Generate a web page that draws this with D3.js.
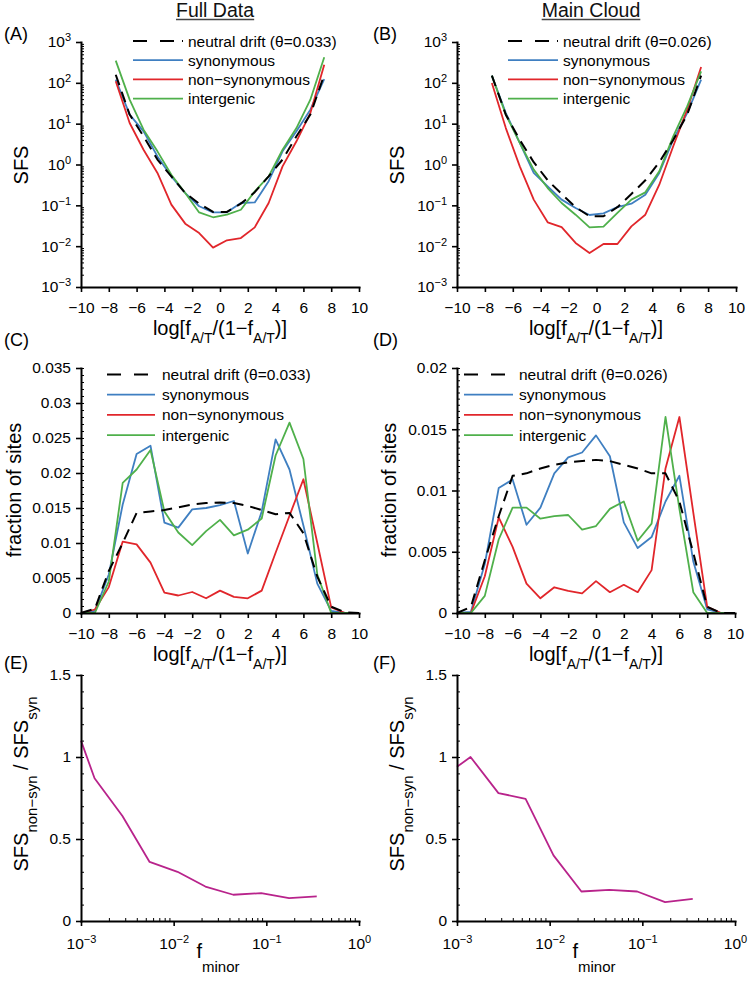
<!DOCTYPE html>
<html><head><meta charset="utf-8">
<script src="https://cdn.jsdelivr.net/npm/d3@7"></script>
<style>
body{margin:0;background:#fff}
svg{display:block;font-family:"Liberation Sans",Arial,Helvetica,sans-serif}
</style>
</head><body>
<svg id="c" width="750" height="987"></svg>
<script>
// ---------- data ----------
const panelTitles = ["Full Data", "Main Cloud"];
const panelTags = ["(A)", "(B)", "(C)", "(D)", "(E)", "(F)"];
const legendNamesFull = ["neutral drift (\u03b8=0.033)", "synonymous", "non\u2212synonymous", "intergenic"];
const legendNamesMain = ["neutral drift (\u03b8=0.026)", "synonymous", "non\u2212synonymous", "intergenic"];

// SFS panels (A, B): x = log[f/(1-f)] bin centres
const sfsX = [-7.5, -6.5, -5.5, -4.5, -3.5, -2.5, -1.5, -0.5, 0.5, 1.5, 2.5, 3.5, 4.5, 5.5, 6.5, 7.5];
const neutralA = [158, 16.7, 4.9, 1.32, 0.51, 0.20, 0.11, 0.069, 0.069, 0.11, 0.21, 0.51, 1.32, 4.9, 16.7, 158];
const synA     = [120, 16.6, 6.5, 1.58, 0.51, 0.20, 0.095, 0.0675, 0.0675, 0.114, 0.118, 0.39, 2.1, 6.5, 22, 124];
const nonsynA  = [109, 10.4, 2.3, 0.62, 0.104, 0.0356, 0.021, 0.0092, 0.0139, 0.0158, 0.0289, 0.114, 0.90, 3.7, 18.2, 279];
const interA   = [349, 38.7, 7.1, 2.1, 0.56, 0.20, 0.067, 0.051, 0.059, 0.078, 0.22, 0.51, 2.3, 7.8, 38.7, 421];

const neutralB = [150, 16.6, 4.0, 1.14, 0.41, 0.19, 0.09, 0.054, 0.054, 0.09, 0.19, 0.41, 1.14, 4.0, 16.6, 150];
const synB     = [150, 18.2, 3.37, 0.62, 0.29, 0.138, 0.086, 0.058, 0.0637, 0.091, 0.110, 0.182, 0.62, 4.06, 18.2, 120];
const nonsynB  = [99, 7.8, 0.90, 0.138, 0.0384, 0.0294, 0.0120, 0.0068, 0.0113, 0.0113, 0.0306, 0.059, 0.32, 2.8, 22, 244];
const interB   = [150, 16.6, 3.37, 0.75, 0.265, 0.114, 0.059, 0.0289, 0.030, 0.065, 0.138, 0.208, 0.68, 4.9, 26.5, 191];

// fraction-of-sites panels (C, D)
const distX = [-10, -9, -8, -7, -6, -5, -4, -3, -2, -1, 0, 1, 2, 3, 4, 5, 6, 7, 8, 9, 10];
const neutralC = [0, 0.0006, 0.0060, 0.0100, 0.0143, 0.0145, 0.0147, 0.0151, 0.0155, 0.0157, 0.0158, 0.0157, 0.0153, 0.0147, 0.0141, 0.0143, 0.0114, 0.0052, 0.0009, 0.0001, 0];
const synC     = [0, 0.0003, 0.0055, 0.0155, 0.0227, 0.0239, 0.0129, 0.0122, 0.0148, 0.0150, 0.0154, 0.0160, 0.0085, 0.0145, 0.0248, 0.0205, 0.0125, 0.0042, 0.0003, 0, 0];
const nonsynC  = [0, 0.0005, 0.0037, 0.0102, 0.0098, 0.0072, 0.0029, 0.0025, 0.0030, 0.0021, 0.0032, 0.0023, 0.0021, 0.0032, 0.0086, 0.0139, 0.0191, 0.0100, 0.0008, 0, 0];
const interC   = [0, 0, 0.0045, 0.0186, 0.0205, 0.0233, 0.0145, 0.0115, 0.0097, 0.0117, 0.0133, 0.0111, 0.0119, 0.0135, 0.0225, 0.0272, 0.0220, 0.0055, 0, 0, 0];

const neutralD = [0, 0.0005, 0.0043, 0.0079, 0.0112, 0.0114, 0.0118, 0.0121, 0.0123, 0.0124, 0.0125, 0.0124, 0.0121, 0.0118, 0.0114, 0.0114, 0.0091, 0.0049, 0.0005, 0, 0];
const synD     = [0, 0.0001, 0.0040, 0.0102, 0.0109, 0.0072, 0.0086, 0.0114, 0.0127, 0.0131, 0.0145, 0.0128, 0.0074, 0.0053, 0.0062, 0.0091, 0.0112, 0.0042, 0.0003, 0, 0];
const nonsynD  = [0, 0, 0.0030, 0.0078, 0.0054, 0.0024, 0.0012, 0.0021, 0.0018, 0.0016, 0.0026, 0.0017, 0.0023, 0.0017, 0.0035, 0.0118, 0.0160, 0.0082, 0.0005, 0, 0];
const interD   = [0, 0, 0.0014, 0.0060, 0.0086, 0.0086, 0.0077, 0.0079, 0.0080, 0.0068, 0.0071, 0.0085, 0.0091, 0.0059, 0.0073, 0.0160, 0.0085, 0.0017, 0, 0, 0];

// ratio panels (E, F)
const fMinor = [0.001, 0.0014, 0.0028, 0.0055, 0.011, 0.022, 0.044, 0.088, 0.176, 0.35];
const ratioE = [1.10, 0.87, 0.64, 0.36, 0.30, 0.21, 0.16, 0.17, 0.14, 0.15];
const ratioF = [0.94, 1.00, 0.78, 0.745, 0.40, 0.18, 0.19, 0.18, 0.115, 0.135];

// tick values
const xTicksLin = [-10, -8, -6, -4, -2, 0, 2, 4, 6, 8, 10];
const yTicksSfs = [1e-3, 1e-2, 1e-1, 1e0, 1e1, 1e2, 1e3];
const yTicksC = [0, 0.005, 0.01, 0.015, 0.02, 0.025, 0.03, 0.035];
const yTicksD = [0, 0.005, 0.01, 0.015, 0.02];
const yTicksE = [0, 0.5, 1, 1.5];
const xTicksE = [1e-3, 1e-2, 1e-1, 1e0];

// ---------- style ----------
const COL = {neutral: "#000000", syn: "#3f7fc1", nonsyn: "#e1262b", inter: "#4fb04b", ratio: "#b8238b"};
const TICKFS = 15.5, LABFS = 20, SUBFS = 14;
const svg = d3.select("#c");

function logMinor(e0, e1) {
  const out = [];
  for (let e = e0; e < e1; e++) for (let k = 2; k <= 9; k++) out.push(k * Math.pow(10, e));
  return out;
}
function linMinor(a, b, step) {
  const out = [];
  const n = Math.round((b - a) / step);
  for (let i = 0; i <= n; i++) out.push(a + i * step);
  return out;
}
function supText(sel, exp) {
  sel.text(null);
  sel.append("tspan").text("10");
  sel.append("tspan").attr("dy", "-0.55em").attr("font-size", 11).text(exp < 0 ? "\u2212" + (-exp) : String(exp));
}
function styleAxis(g) {
  g.attr("font-family", null).attr("font-size", TICKFS);
  g.select(".domain").attr("stroke-width", 2).attr("stroke-linecap", "square");
  g.selectAll(".tick line").attr("stroke-width", 1.6);
  g.selectAll(".tick text").attr("fill", "#000");
}

function panel(o) {
  const g = svg.append("g");
  const x = (o.xLog ? d3.scaleLog() : d3.scaleLinear()).domain(o.xDom).range([o.l, o.r]);
  const y = (o.yLog ? d3.scaleLog() : d3.scaleLinear()).domain(o.yDom).range([o.b, o.t]);

  // minor ticks (inside)
  if (o.yMinor) {
    g.append("g").attr("transform", `translate(${o.l},0)`)
      .call(d3.axisLeft(y).tickValues(o.yMinor).tickSize(-3).tickFormat(""))
      .call(s => s.select(".domain").remove())
      .call(s => s.selectAll(".tick line").attr("stroke-width", 1));
  }
  if (o.xMinor) {
    g.append("g").attr("transform", `translate(0,${o.b})`)
      .call(d3.axisBottom(x).tickValues(o.xMinor).tickSize(-3).tickFormat(""))
      .call(s => s.select(".domain").remove())
      .call(s => s.selectAll(".tick line").attr("stroke-width", 1));
  }

  // data lines (dashed neutral drawn last, on top)
  const line = d3.line().x(d => x(d[0])).y(d => y(d[1]));
  const order = o.series.map((s, i) => i).sort((a, b) => (o.series[a].dash ? 1 : 0) - (o.series[b].dash ? 1 : 0));
  order.forEach(i => {
    const s = o.series[i];
    g.append("path")
      .datum(o.xs.map((v, j) => [v, s.vals[j]]))
      .attr("d", line)
      .attr("fill", "none")
      .attr("stroke", s.color)
      .attr("stroke-width", s.dash ? 2 : 1.8)
      .attr("stroke-linejoin", "round")
      .attr("stroke-dasharray", s.dash || null);
  });

  // major axes
  const ya = g.append("g").attr("transform", `translate(${o.l},0)`)
    .call(d3.axisLeft(y).tickValues(o.yTicks).tickSize(5).tickSizeOuter(0).tickPadding(5)
      .tickFormat(o.yLog ? "" : o.yFmt));
  styleAxis(ya);
  if (o.yLog) ya.selectAll(".tick text").each(function (d) { supText(d3.select(this), Math.round(Math.log10(d))); });

  const xa = g.append("g").attr("transform", `translate(0,${o.b})`)
    .call(d3.axisBottom(x).tickValues(o.xTicks).tickSize(5).tickSizeOuter(0).tickPadding(o.xLog ? 12 : 10)
      .tickFormat(o.xLog ? "" : o.xFmt));
  styleAxis(xa);
  if (o.xLog) xa.selectAll(".tick text").each(function (d) { supText(d3.select(this), Math.round(Math.log10(d))); });

  // panel tag
  svg.append("text").attr("x", o.tagX).attr("y", o.tagY).attr("font-size", 18).text(o.tag);

  // legend
  if (o.legend) {
    o.legend.names.forEach((nm, i) => {
      const s = o.series[i];
      const yy = o.legend.y + i * o.legend.dy;
      g.append("line").attr("x1", o.legend.x1).attr("x2", o.legend.x2).attr("y1", yy).attr("y2", yy)
        .attr("stroke", s.color).attr("stroke-width", s.dash ? 2 : 1.8)
        .attr("stroke-dasharray", s.dash ? "14,13,14,8,2,100" : null);
      g.append("text").attr("x", o.legend.tx).attr("y", yy).attr("dy", "0.36em")
        .attr("font-size", TICKFS).text(nm);
    });
  }
  return {x, y, g};
}

const fmtLin = d => (d < 0 ? "\u2212" + (-d) : String(d));
const fmtDec = d => String(d);

function sfsSeries(n, s, ns, it) {
  return [
    {vals: n, color: COL.neutral, dash: "11,7"},
    {vals: s, color: COL.syn},
    {vals: ns, color: COL.nonsyn},
    {vals: it, color: COL.inter}
  ];
}

// A
panel({l: 81, r: 359, t: 42, b: 287, xDom: [-10, 10], yDom: [1e-3, 1e3], yLog: true,
  xs: sfsX, series: sfsSeries(neutralA, synA, nonsynA, interA),
  yTicks: yTicksSfs, yMinor: logMinor(-3, 3), xTicks: xTicksLin, xFmt: fmtLin,
  tag: panelTags[0], tagX: 4, tagY: 40,
  legend: {names: legendNamesFull, x1: 133, x2: 183, tx: 188, y: 41, dy: 19.2}});
// B
panel({l: 457, r: 736, t: 42, b: 287, xDom: [-10, 10], yDom: [1e-3, 1e3], yLog: true,
  xs: sfsX, series: sfsSeries(neutralB, synB, nonsynB, interB),
  yTicks: yTicksSfs, yMinor: logMinor(-3, 3), xTicks: xTicksLin, xFmt: fmtLin,
  tag: panelTags[1], tagX: 373, tagY: 40,
  legend: {names: legendNamesMain, x1: 508, x2: 558, tx: 563, y: 41, dy: 19.2}});
// C
panel({l: 81, r: 359, t: 368, b: 613, xDom: [-10, 10], yDom: [0, 0.035],
  xs: distX, series: sfsSeries(neutralC, synC, nonsynC, interC),
  yTicks: yTicksC, yMinor: linMinor(0, 0.035, 0.001), yFmt: fmtDec, xTicks: xTicksLin, xFmt: fmtLin,
  tag: panelTags[2], tagX: 4, tagY: 346,
  legend: {names: legendNamesFull, x1: 107, x2: 155, tx: 162, y: 374.5, dy: 20.2}});
// D
panel({l: 457, r: 735, t: 368, b: 613, xDom: [-10, 10], yDom: [0, 0.02],
  xs: distX, series: sfsSeries(neutralD, synD, nonsynD, interD),
  yTicks: yTicksD, yMinor: linMinor(0, 0.02, 0.0005), yFmt: fmtDec, xTicks: xTicksLin, xFmt: fmtLin,
  tag: panelTags[3], tagX: 373, tagY: 346,
  legend: {names: legendNamesMain, x1: 464, x2: 513, tx: 519, y: 374.5, dy: 20.2}});
// E
panel({l: 81, r: 359, t: 675, b: 921, xDom: [1e-3, 1], xLog: true, yDom: [0, 1.5],
  xs: fMinor, series: [{vals: ratioE, color: COL.ratio}],
  yTicks: yTicksE, yMinor: linMinor(0, 1.5, 0.1), yFmt: fmtDec, xTicks: xTicksE, xMinor: logMinor(-3, 0),
  tag: panelTags[4], tagX: 4, tagY: 669});
// F
panel({l: 457, r: 735, t: 675, b: 921, xDom: [1e-3, 1], xLog: true, yDom: [0, 1.5],
  xs: fMinor, series: [{vals: ratioF, color: COL.ratio}],
  yTicks: yTicksE, yMinor: linMinor(0, 1.5, 0.1), yFmt: fmtDec, xTicks: xTicksE, xMinor: logMinor(-3, 0),
  tag: panelTags[5], tagX: 373, tagY: 669});

// ---------- titles ----------
[[215, panelTitles[0]], [591, panelTitles[1]]].forEach(([cx, t]) => {
  const tx = svg.append("text").attr("x", cx).attr("y", 17).attr("text-anchor", "middle")
    .attr("font-size", 19.5).attr("fill", "#111").text(t);
  const bb = tx.node().getBBox();
  svg.append("line").attr("x1", bb.x).attr("x2", bb.x + bb.width).attr("y1", 19.5).attr("y2", 19.5)
    .attr("stroke", "#444").attr("stroke-width", 1.4);
});

// ---------- axis labels ----------
function xLogitLabel(cx, by) {
  const t = svg.append("text").attr("x", cx).attr("y", by).attr("text-anchor", "middle").attr("font-size", LABFS);
  t.append("tspan").text("log[f");
  t.append("tspan").attr("dy", 8).attr("font-size", SUBFS).text("A/T");
  t.append("tspan").attr("dy", -8).text("/(1\u2212f");
  t.append("tspan").attr("dy", 8).attr("font-size", SUBFS).text("A/T");
  t.append("tspan").attr("dy", -8).text(")]");
}
xLogitLabel(220, 335); xLogitLabel(596, 335);
xLogitLabel(220, 661); xLogitLabel(596, 661);

function fMinorLabel(cx, by) {
  const t = svg.append("text").attr("x", cx).attr("y", by).attr("text-anchor", "middle").attr("font-size", LABFS);
  t.append("tspan").text("f");
  t.append("tspan").attr("dy", 14).attr("font-size", SUBFS + 1).text("minor");
}
fMinorLabel(218, 958); fMinorLabel(594, 958);

function yLabel(bx, cy, build) {
  const t = svg.append("text").attr("transform", `translate(${bx},${cy}) rotate(-90)`)
    .attr("text-anchor", "middle").attr("font-size", LABFS);
  build(t);
}
yLabel(28, 165, t => t.text("SFS"));
yLabel(404, 165, t => t.text("SFS"));
yLabel(21, 490, t => t.text("fraction of sites"));
yLabel(396, 490, t => t.text("fraction of sites"));
function ratioLab(t) {
  t.append("tspan").text("SFS");
  t.append("tspan").attr("dy", 9).attr("font-size", SUBFS + 1).text("non\u2212syn");
  t.append("tspan").attr("dy", -9).text(" / SFS");
  t.append("tspan").attr("dy", 9).attr("font-size", SUBFS + 1).text("syn");
}
yLabel(28, 784, ratioLab);
yLabel(404, 784, ratioLab);
</script>
</body></html>
